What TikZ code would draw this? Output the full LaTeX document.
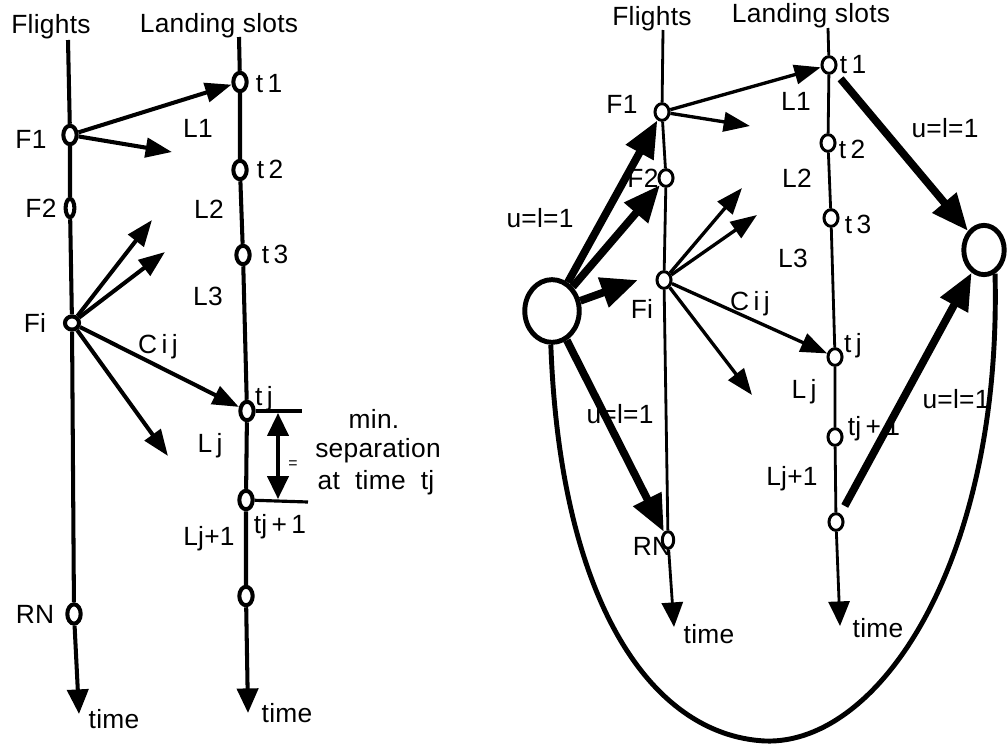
\documentclass[tikz,border=0pt]{standalone}
\usepackage{fontspec}
\setmainfont{Liberation Sans}[LetterSpace=1]
\usetikzlibrary{arrows.meta,shapes.geometric}

\begin{document}
\begin{tikzpicture}[x=0.02cm,y=-0.02cm,
  font=\fontsize{15}{18}\selectfont,
  lbl/.style={inner sep=0pt, anchor=base},
  lnode/.style={ellipse, draw, fill=white, line width=2.3pt, inner sep=0pt,
    minimum width=7.6pt, minimum height=10.5pt},
  rnode/.style={ellipse, draw, fill=white, line width=1.7pt, inner sep=0pt,
    minimum width=8pt, minimum height=9.5pt},
  laxis/.style={line width=2.3pt},
  raxis/.style={line width=1.6pt},
  ltip/.style={-{Triangle[length=14pt,width=12pt]}},
  larr/.style={line width=2.3pt, -{Triangle[length=15pt,width=11pt]}},
  rarr/.style={line width=1.9pt, -{Triangle[length=15pt,width=11pt]}},
  fat/.style={line width=4.4pt, -{Triangle[length=21pt,width=17pt]}},
]
\path[use as bounding box] (0,0) rectangle (1007,744);

% ---------------- left: flights and landing slots ----------------
\node[lbl] (hF) at (51,33) {Flights};
\node[lbl] (hL) at (219,32) {Landing slots};
\node[lbl] at (31,148) {F1};
\node[lbl] at (41,217) {F2};
\node[lbl] at (35,332) {Fi};
\node[lbl] at (35,623) {RN};
\node[lbl] at (269,92) {t\,1};
\node[lbl] at (270,178) {t\,2};
\node[lbl] at (275,263) {t\,3};
\node[lbl] at (264,405) {t\,j};
\node[lbl] at (280,533) {tj\,+\,1};
\node[lbl] at (198,137) {L1};
\node[lbl] at (209,218) {L2};
\node[lbl] at (208,305) {L3};
\node[lbl] at (158,353) {C\,i\,j};
\node[lbl] at (210,452) {L\,j};
\node[lbl] at (209,545) {Lj+1};
\node[lbl] at (114,728) {time};
\node[lbl] at (287,722) {time};
\node[lbl] at (374,428) {min.};
\node[lbl] at (378,457) {separation};
\node[lbl] at (376,489) {at\ \ time\ \ tj};
\node[lbl, font=\fontsize{9}{10}\selectfont] at (293,468) {=};

\coordinate (lf0) at (68,40);
\node[lnode] (F1) at (70,135) {};
\node[lnode, minimum width=5pt] (F2) at (70,208) {};
\node[lnode, minimum width=8pt, minimum height=7.5pt] (Fi) at (72,323) {};
\node[lnode, minimum width=7.6pt, minimum height=11pt] (FN) at (74,614) {};
\coordinate (lf1) at (79,714);

\coordinate (ls0) at (239,37);
\node[lnode] (t1) at (240,82) {};
\node[lnode] (t2) at (240,170) {};
\node[lnode] (t3) at (243,255) {};
\node[lnode] (tj) at (247,411) {};
\node[lnode] (tj1) at (246,500) {};
\node[lnode] (tl) at (246,596) {};
\coordinate (ls1) at (248,713);

\draw[laxis] (lf0) -- (F1) -- (F2) -- (Fi) -- (FN);
\draw[laxis, ltip] (FN) -- (lf1);
\draw[laxis] (ls0) -- (t1) -- (t2) -- (t3) -- (tj) -- (tj1) -- (tl);
\draw[laxis, ltip] (tl) -- (ls1);

% arcs leaving the flights
\coordinate (a1) at (172,152);
\coordinate (a2) at (152,220);
\coordinate (a3) at (165,252);
\coordinate (a4) at (168,456);
\draw[larr] (F1) -- (t1);
\draw[larr] (F1) -- (a1);
\draw[larr] (Fi) -- (a2);
\draw[larr] (Fi) -- (a3);
\draw[larr] (Fi) -- (tj);
\draw[larr] (Fi) -- (a4);

% minimum separation between slots
\coordinate (sA) at (302,411);
\coordinate (sB) at (308,502);
\coordinate (dA) at (278,413);
\coordinate (dB) at (278,499);
\draw[line width=1.8pt] (tj) -- (sA);
\draw[line width=1.8pt] (tj1) -- (sB);
\draw[line width=2pt, {Triangle[length=13pt,width=12pt]}-{Triangle[length=13pt,width=12pt]}] (dA) -- (dB);

% ---------------- right: network with source and sink ----------------
\node[lbl] at (652,25) {Flights};
\node[lbl] at (811,22) {Landing slots};
\node[lbl] at (622,113) {F1};
\node[lbl] at (643,187) {F2};
\node[lbl] at (642,318) {Fi};
\node[lbl] at (652,555) {RN};
\node[lbl] at (709,643) {time};
\node[lbl] at (853,73) {t\,1};
\node[lbl] at (852,158) {t\,2};
\node[lbl] at (858,233) {t\,3};
\node[lbl] at (853,352) {t\,j};
\node[lbl] at (874,435) {tj\,+\,1};
\node[lbl] at (796,110) {L1};
\node[lbl] at (797,187) {L2};
\node[lbl] at (793,267) {L3};
\node[lbl] at (750,310) {C\,i\,j};
\node[lbl] at (804,398) {L\,j};
\node[lbl] at (792,485) {Lj+1};
\node[lbl] at (878,637) {time};
\node[lbl] at (540,227) {u=l=1};
\node[lbl] at (620,423) {u=l=1};
\node[lbl] at (945,137) {u=l=1};
\node[lbl] at (956,408) {u=l=1};

\coordinate (rf0) at (663,30);
\node[rnode] (G1) at (662,112) {};
\node[rnode] (G2) at (666,178) {};
\node[rnode] (Gi) at (664,280) {};
\node[rnode, minimum width=6.5pt] (GN) at (668,540) {};
\coordinate (rf1) at (674,627);

\coordinate (rs0) at (828,28);
\node[rnode] (s1) at (829,65) {};
\node[rnode] (s2) at (828,143) {};
\node[rnode] (s3) at (831,218) {};
\node[rnode] (sj) at (835,357) {};
\node[rnode] (sj1) at (835,437) {};
\node[rnode] (sl) at (836,522) {};
\coordinate (rs1) at (840,626);

\node[ellipse, draw, fill=white, line width=2.8pt, inner sep=0pt,
  minimum width=31pt, minimum height=35.7pt] (S) at (552,311) {};
\node[ellipse, draw, fill=white, line width=2.8pt, inner sep=0pt,
  minimum width=23pt, minimum height=28pt] (T) at (984,250) {};

\draw[raxis] (rf0) -- (G1) -- (G2) -- (Gi) -- (GN);
\draw[raxis, -{Triangle[length=14pt,width=12pt]}] (GN) -- (rf1);
\draw[raxis] (rs0) -- (s1) -- (s2) -- (s3) -- (sj) -- (sj1) -- (sl);
\draw[raxis, -{Triangle[length=14pt,width=12pt]}] (sl) -- (rs1);

\coordinate (b1) at (750,126);
\coordinate (b2) at (742,188);
\coordinate (b3) at (757,215);
\coordinate (b4) at (752,395);
\coordinate (b5) at (638,280);
\draw[rarr] (G1) -- (s1);
\draw[rarr] (G1) -- (b1);
\draw[rarr] (Gi) -- (b2);
\draw[rarr] (Gi) -- (b3);
\draw[rarr] (Gi) -- (sj);
\draw[rarr] (Gi) -- (b4);

% source and sink arcs
\draw[fat] (S) -- (G1);
\draw[fat] (S) -- (G2);
\draw[fat] (S) -- (b5);
\draw[fat] (S) -- (GN);
\draw[fat, shorten <=5pt] (s1) -- (T);
\draw[fat, shorten <=5pt] (sl) -- (T);

% return arc from sink to source
\draw[line width=2.8pt] (S.-92) .. controls (560,600) and (650,735) .. (765,741)
  .. controls (880,745) and (1002,560) .. (T.-65);
\end{tikzpicture}
\end{document}
